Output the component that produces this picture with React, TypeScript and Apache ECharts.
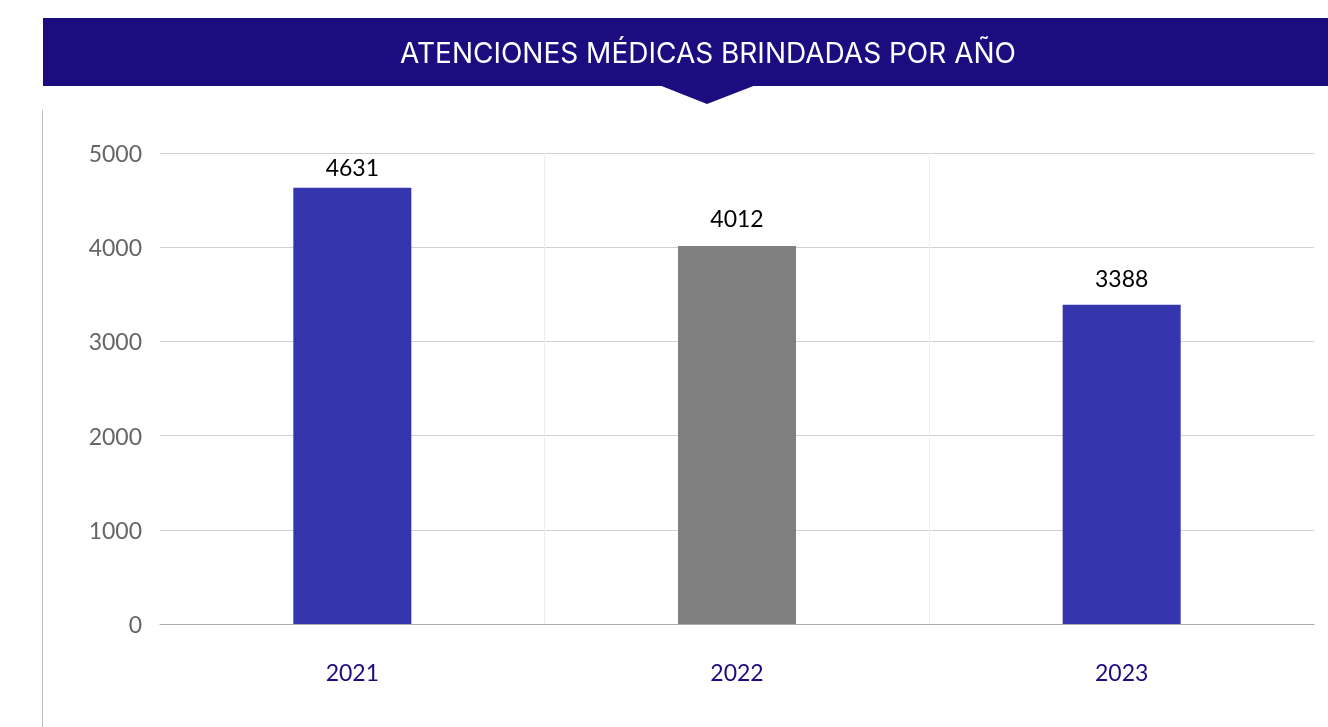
import React, { useEffect, useRef } from "react";
import * as echarts from "echarts";

const title = "ATENCIONES MÉDICAS BRINDADAS POR AÑO";
const categories = ["2021", "2022", "2023"];
const values = [4631, 4012, 3388];
const barColors = ["#3535AD", "#808080", "#3535AD"];
const labelDistances = [9, 17, 15];

export default function App() {
  const ref = useRef<HTMLDivElement>(null);
  useEffect(() => {
    const chart = echarts.init(ref.current!, undefined, { renderer: "svg" });
    chart.setOption({
      animation: false,
      textStyle: { fontFamily: "Lato" },
      graphic: [
        { type: "rect", shape: { x: 43, y: 18, width: 1285, height: 68 }, style: { fill: "#1B0C7F" } },
        { type: "polygon", shape: { points: [[659, 85], [756, 85], [707, 104]] }, style: { fill: "#1B0C7F" } },
        {
          type: "text",
          x: 708,
          y: 53,
          style: { text: title, fill: "#fff", font: "28px Inter", align: "center", verticalAlign: "middle" },
        },
        { type: "line", shape: { x1: 42.5, y1: 110, x2: 42.5, y2: 727 }, style: { stroke: "#bdbdbd", lineWidth: 1 } },
      ],
      grid: { left: 160, right: 14, top: 153, bottom: 103 },
      xAxis: {
        type: "category",
        data: categories,
        axisLine: { lineStyle: { color: "#aaaaaa" } },
        axisTick: { show: false },
        axisLabel: { color: "#1B0C7F", fontSize: 23, margin: 36, fontFamily: "Lato" },
        splitLine: { show: true, showMinLine: false, showMaxLine: false, lineStyle: { color: "#eeeeee" } },
      },
      yAxis: {
        type: "value",
        min: 0,
        max: 5000,
        interval: 1000,
        axisLine: { show: false },
        axisTick: { show: false },
        axisLabel: { color: "#666666", fontSize: 23, margin: 18, fontFamily: "Lato", formatter: (v: number) => String(v) },
        splitLine: { lineStyle: { color: "#d0d0d0" } },
      },
      series: [
        {
          type: "bar",
          data: values.map((v, i) => ({
            value: v,
            itemStyle: { color: barColors[i] },
            label: { distance: labelDistances[i] },
          })),
          barWidth: 118,
          label: { show: true, position: "top", color: "#000", fontSize: 23, fontFamily: "Lato" },
        },
      ],
    });
    return () => chart.dispose();
  }, []);
  return <div ref={ref} style={{ position: "fixed", left: 0, top: 0, width: 1328, height: 727 }} />;
}
